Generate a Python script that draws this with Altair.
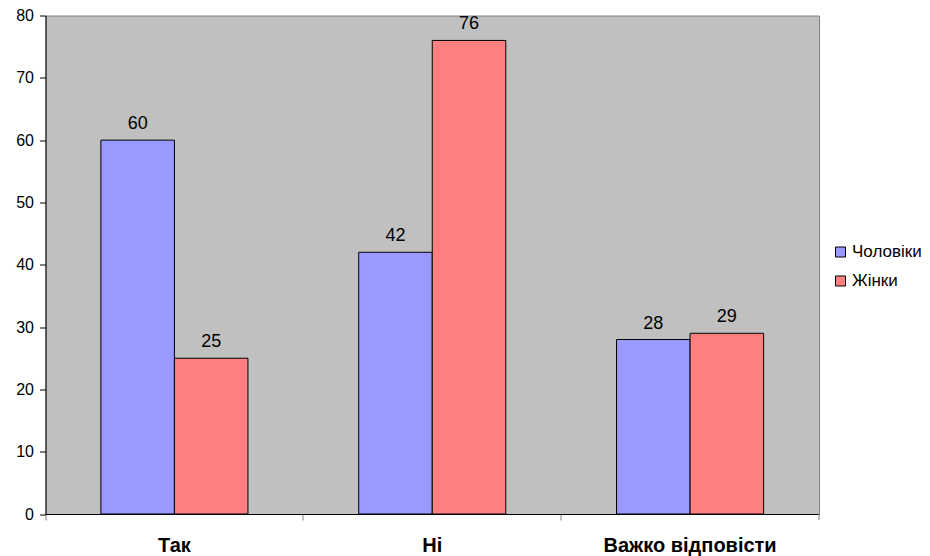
import altair as alt
import pandas as pd

categories = ["Так", "Ні", "Важко відповісти"]
series = ["Чоловіки", "Жінки"]
men = [60, 42, 28]
women = [25, 76, 29]
colors = ["#9999FF", "#FF8080"]

rows = []
for c, m, w in zip(categories, men, women):
    rows.append({"cat": c, "series": series[0], "value": m})
    rows.append({"cat": c, "series": series[1], "value": w})
df = pd.DataFrame(rows)

font = "Liberation Sans"
W, H = 773.5, 498.5

x = alt.X("cat:N", sort=categories, title=None,
          scale=alt.Scale(paddingInner=0, paddingOuter=0),
          axis=alt.Axis(bandPosition=0, labelFont=font, labelFontSize=20, labelFontWeight="bold",
                        labelColor="black", labelPadding=15, labelAngle=0,
                        domainColor="black", tickColor="#808080", tickSize=6, ticks=True))
xo = alt.XOffset("series:N", sort=series,
                 scale=alt.Scale(paddingInner=0, paddingOuter=0.753))
y = alt.Y("value:Q", title=None,
          scale=alt.Scale(domain=[0, 80], nice=False),
          axis=alt.Axis(values=list(range(0, 81, 10)), grid=False, labelFont=font,
                        labelFontSize=16, labelColor="black", labelPadding=6,
                        domainColor="black", tickColor="black", tickSize=6))

base = alt.Chart(df).encode(x=x, xOffset=xo)

bars = base.mark_bar(stroke="black", strokeWidth=1).encode(
    y=y,
    color=alt.Color("series:N", sort=series,
                    scale=alt.Scale(domain=series, range=colors),
                    legend=alt.Legend(title=None, orient="none", legendX=786.5, legendY=228,
                                      symbolType="square", symbolSize=100,
                                      symbolStrokeColor="black", symbolStrokeWidth=1,
                                      labelFont=font, labelFontSize=17, labelColor="black",
                                      labelOffset=3, rowPadding=11, padding=0)),
)

labels = base.mark_text(font=font, fontSize=18, color="black", dy=-11, baseline="alphabetic").encode(
    y=alt.Y("value:Q", scale=alt.Scale(domain=[0, 80], nice=False)),
    text="value:Q",
)

endtick = alt.Chart(pd.DataFrame({"a": [0]})).mark_rule(color="#808080").encode(
    x=alt.value(W), y=alt.value(H), y2=alt.value(H + 6)
)

chart = alt.layer(bars, labels, endtick).properties(
    width=W, height=H,
    autosize=alt.AutoSizeParams(type="none"),
    padding={"left": 37.5, "top": 7.5, "right": 103, "bottom": 44},
).configure_view(fill="#C0C0C0", stroke="#808080", strokeWidth=1)

chart.save("out.html", embed_options={"renderer": "svg", "actions": False})
